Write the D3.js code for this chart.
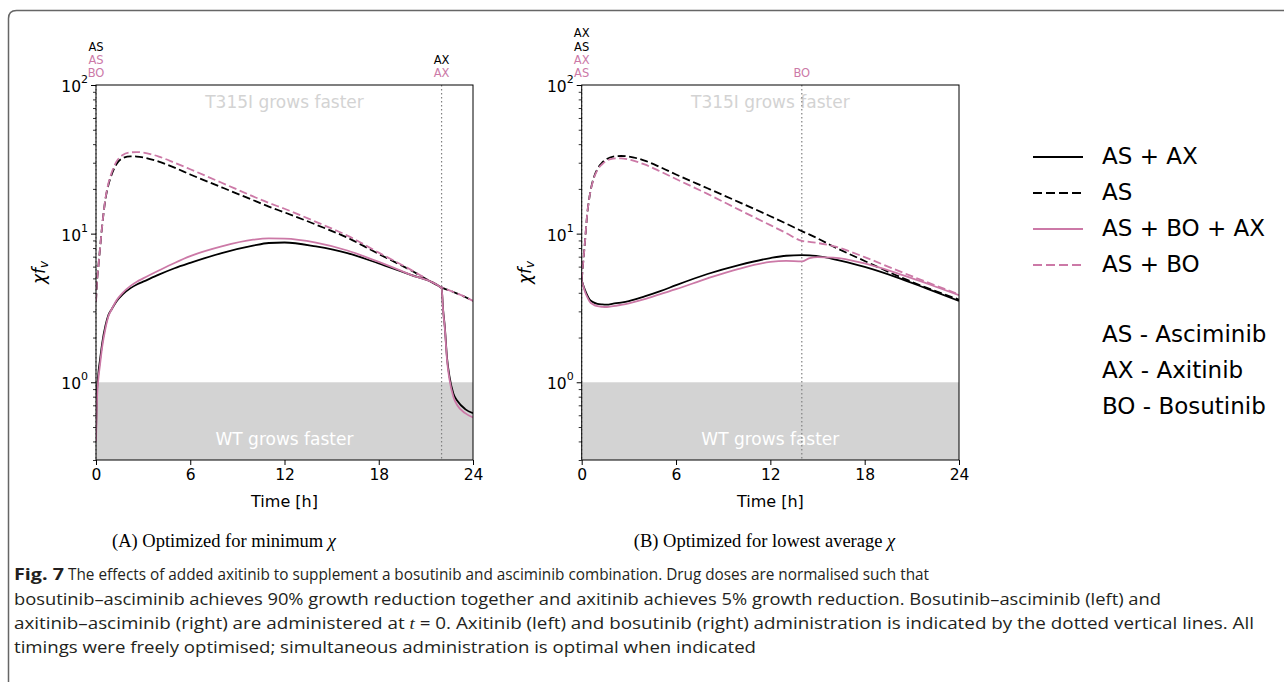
<!DOCTYPE html>
<html>
<head>
<meta charset="utf-8">
<script src="https://cdn.jsdelivr.net/npm/d3@7"></script>
<style>
  body { margin: 0; background: #fff; }
  svg { display: block; font-family: "DejaVu Sans", sans-serif; }
</style>
</head>
<body>
<svg id="fig" width="1284" height="682"></svg>
<script>
// ---- DATA ----
const black = '#000000'
const pink = '#cc79a7'

// panel A: optimized for minimum chi
const timeA = [0, 0.05, 0.15, 0.25, 0.4, 0.6, 0.8, 1, 1.3, 1.7, 2.2, 2.6, 3, 4, 5, 6, 8, 10, 11, 12, 14, 16, 18, 20, 22, 22.1, 22.2, 22.35, 22.5, 22.75, 23, 23.5, 24]
const asAX_A   = [0.45, 0.8, 1.15, 1.4, 1.85, 2.4, 2.85, 3.1, 3.5, 3.9, 4.3, 4.55, 4.75, 5.3, 5.85, 6.36, 7.4, 8.3, 8.65, 8.72, 8.2, 7.4, 6.3, 5.3, 4.3, 3.05, 2.4, 1.45, 1.1, 0.84, 0.75, 0.66, 0.62]
const as_A     = [3.5, 4.5, 6, 7.8, 11.5, 17, 21.5, 25, 29.3, 32.2, 33.1, 33.0, 32.6, 30.5, 27.8, 25.0, 20.5, 16.8, 15.2, 13.9, 11.5, 9.4, 7.3, 5.7, 4.35, 4.3, 4.25, 4.2, 4.15, 4.05, 3.95, 3.75, 3.53]
const asBOAX_A = [0.4, 0.7, 1.05, 1.3, 1.75, 2.3, 2.8, 3.1, 3.55, 4.0, 4.45, 4.75, 5.0, 5.65, 6.35, 7.05, 8.2, 9.1, 9.28, 9.25, 8.7, 7.7, 6.45, 5.3, 4.3, 3.0, 2.35, 1.4, 1.05, 0.8, 0.7, 0.62, 0.58]
const asBO_A   = [3.5, 4.5, 6, 7.8, 11.5, 17.2, 22, 25.8, 30.5, 33.8, 35.2, 35.4, 35.1, 33, 30, 27.1, 22, 17.8, 16.1, 14.7, 12.0, 9.7, 7.45, 5.75, 4.35, 4.3, 4.25, 4.2, 4.15, 4.05, 3.95, 3.75, 3.53]

// panel B: optimized for lowest average chi
const timeB = [0, 0.1, 0.2, 0.35, 0.5, 0.75, 1, 1.3, 1.6, 2, 2.5, 3, 4, 5, 6, 8, 10, 12, 13, 14, 14.5, 15, 16, 18, 20, 22, 24]
const asAX_B   = [4.86, 4.5, 4.2, 3.85, 3.6, 3.45, 3.37, 3.34, 3.33, 3.38, 3.44, 3.52, 3.78, 4.1, 4.5, 5.35, 6.14, 6.85, 7.1, 7.17, 7.15, 7.05, 6.75, 5.97, 5.1, 4.25, 3.53]
const as_B     = [4.86, 6.5, 8.6, 13.5, 17.8, 23.5, 27.2, 30, 31.8, 33, 33.3, 33, 31, 28, 25, 20.2, 16.3, 13.1, 11.7, 10.4, 9.85, 9.3, 8.2, 6.55, 5.25, 4.3, 3.6]
const asBOAX_B = [4.86, 4.45, 4.1, 3.75, 3.5, 3.33, 3.25, 3.22, 3.21, 3.25, 3.32, 3.4, 3.62, 3.92, 4.23, 5.0, 5.8, 6.45, 6.55, 6.5, 6.85, 6.95, 6.9, 6.3, 5.45, 4.6, 3.85]
const asBO_B   = [4.86, 6.5, 8.6, 13.5, 17.8, 23.2, 26.8, 29.3, 31, 32, 32.1, 31.5, 29.2, 26.2, 23.3, 18.5, 14.5, 11.4, 10.1, 8.94, 8.8, 8.65, 8.25, 6.95, 5.7, 4.7, 3.9]

// drug administration marks: time and labels stacked from the axis upward
const doseA = [
  {t: 0,  labels: [['BO', pink], ['AS', pink], ['AS', black]]},
  {t: 22, labels: [['AX', pink], ['AX', black]]}
]
const doseB = [
  {t: 0,  labels: [['AS', pink], ['AX', pink], ['AS', black], ['AX', black]]},
  {t: 14, labels: [['BO', pink]]}
]

const seriesNames = ['AS + AX', 'AS', 'AS + BO + AX', 'AS + BO']
const seriesColours = [black, black, pink, pink]
const seriesDashed = [false, true, false, true]
const abbreviations = ['AS - Asciminib', 'AX - Axitinib', 'BO - Bosutinib']
const xTicks = [0, 6, 12, 18, 24]
const yMajor = [1, 10, 100]
const yMinor = [0.3, 0.4, 0.5, 0.6, 0.7, 0.8, 0.9, 2, 3, 4, 5, 6, 7, 8, 9, 20, 30, 40, 50, 60, 70, 80, 90]

// ---- DRAWING ----
let svg = d3.select('#fig')

// article frame
svg.append('path')
  .attr('d', 'M8.5,700 L8.5,18.5 Q8.5,10.5 16.5,10.5 L1300,10.5')
  .attr('fill', 'none')
  .attr('stroke', '#666')
  .attr('stroke-width', 1.5)

function drawPanel(cfg) {
  let margins = {top: 85, bottom: 460, left: cfg.left, right: cfg.right}
  let x = d3.scaleLinear().domain([0, 24]).range([margins.left, margins.right])
  let y = d3.scaleLog().domain([0.3, 100]).range([margins.bottom, margins.top])
  let g = svg.append('g')

  let clipId = 'clip' + cfg.id
  g.append('clipPath').attr('id', clipId)
    .append('rect')
    .attr('x', margins.left).attr('y', margins.top)
    .attr('width', margins.right - margins.left)
    .attr('height', margins.bottom - margins.top)

  // WT region
  g.append('rect')
    .attr('x', x(0)).attr('y', y(1))
    .attr('width', x(24) - x(0)).attr('height', y(0.3) - y(1))
    .attr('fill', '#d3d3d3')

  g.append('text')
    .attr('x', x(12)).attr('y', y(100) + 18)
    .attr('text-anchor', 'middle').attr('dominant-baseline', 'middle')
    .attr('font-size', 17).attr('fill', '#d3d3d3')
    .text('T315I grows faster')
  g.append('text')
    .attr('x', x(12)).attr('y', 440)
    .attr('text-anchor', 'middle').attr('dominant-baseline', 'middle')
    .attr('font-size', 17).attr('fill', '#ffffff')
    .text('WT grows faster')

  // dotted administration lines
  cfg.doses.forEach(d => {
    g.append('line')
      .attr('x1', x(d.t)).attr('x2', x(d.t))
      .attr('y1', y(100)).attr('y2', y(0.3))
      .attr('stroke', '#808080').attr('stroke-width', 1.2)
      .attr('stroke-dasharray', '1.5,2.5')
    d.labels.forEach((lab, i) => {
      g.append('text')
        .attr('x', x(d.t)).attr('y', 73.5 - i * 13.2)
        .attr('text-anchor', 'middle').attr('dominant-baseline', 'middle')
        .attr('font-size', 11.5).attr('fill', lab[1])
        .text(lab[0])
    })
  })

  // curves
  let line = d3.line()
    .x(d => x(d.t))
    .y(d => y(d.v))
    .curve(d3.curveMonotoneX)

  let order = [1, 3, 0, 2]
  order.forEach(k => {
    let pts = cfg.time.map((t, i) => ({t: t, v: cfg.series[k][i]}))
    g.append('path')
      .datum(pts)
      .attr('clip-path', `url(#${clipId})`)
      .attr('d', line)
      .attr('fill', 'none')
      .attr('stroke', seriesColours[k])
      .attr('stroke-width', 1.8)
      .attr('stroke-dasharray', seriesDashed[k] ? '8,3.5' : null)
  })

  // X AXIS
  let xAxis = g.append('g')
    .attr('transform', `translate(0, ${margins.bottom})`)
    .call(d3.axisBottom(x).tickValues(xTicks).tickSize(5).tickPadding(4))
  xAxis.select('.domain').remove()
  xAxis.selectAll('text').attr('font-size', 15.5).attr('fill', '#000').attr('font-family', 'DejaVu Sans')
  xAxis.selectAll('line').attr('stroke', '#000')

  g.append('text')
    .attr('x', x(12)).attr('y', 502)
    .attr('text-anchor', 'middle').attr('dominant-baseline', 'middle')
    .attr('font-size', 16)
    .text('Time [h]')

  // Y AXIS
  let yAxis = g.append('g')
    .attr('transform', `translate(${margins.left}, 0)`)
    .call(d3.axisLeft(y).tickValues(yMajor).tickSize(5).tickFormat(''))
  yAxis.select('.domain').remove()
  yAxis.selectAll('line').attr('stroke', '#000')

  let yMinorAxis = g.append('g')
    .attr('transform', `translate(${margins.left}, 0)`)
    .call(d3.axisLeft(y).tickValues(yMinor).tickSize(3).tickFormat(''))
  yMinorAxis.select('.domain').remove()
  yMinorAxis.selectAll('line').attr('stroke', '#000').attr('stroke-width', 0.8)

  yMajor.forEach(v => {
    let lab = g.append('text')
      .attr('x', margins.left - 8).attr('y', y(v) + 2)
      .attr('text-anchor', 'end').attr('dominant-baseline', 'middle')
      .attr('font-size', 15.5)
    lab.append('tspan').text('10')
    lab.append('tspan').attr('font-size', 11).attr('dy', -7).text(Math.round(Math.log10(v)))
  })

  let yl = g.append('text')
    .attr('transform', `translate(${margins.left - 56}, ${(margins.top + margins.bottom) / 2}) rotate(-90)`)
    .attr('text-anchor', 'middle').attr('dominant-baseline', 'middle')
    .attr('font-size', 17).attr('font-style', 'italic')
  yl.append('tspan').text('χf')
  yl.append('tspan').attr('font-size', 12).attr('dy', 4).text('v')

  // spines
  g.append('rect')
    .attr('x', margins.left).attr('y', margins.top)
    .attr('width', margins.right - margins.left)
    .attr('height', margins.bottom - margins.top)
    .attr('fill', 'none').attr('stroke', '#000').attr('stroke-width', 1)

  // sub caption
  let sc = g.append('text')
    .attr('x', cfg.captionX).attr('y', 543)
    .attr('text-anchor', 'middle').attr('dominant-baseline', 'middle')
    .attr('font-family', '"Liberation Serif", "DejaVu Serif", serif')
    .attr('font-size', 18.5)
  sc.append('tspan').text(cfg.caption + ' ')
  sc.append('tspan').attr('font-style', 'italic').text('χ')
}

drawPanel({id: 'A', left: 96, right: 473, time: timeA,
  series: [asAX_A, as_A, asBOAX_A, asBO_A], doses: doseA,
  captionX: 224, caption: '(A) Optimized for minimum'})
drawPanel({id: 'B', left: 581.7, right: 959, time: timeB,
  series: [asAX_B, as_B, asBOAX_B, asBO_B], doses: doseB,
  captionX: 764.5, caption: '(B) Optimized for lowest average'})

// LEGEND
let legend = svg.append('g')
seriesNames.forEach((name, i) => {
  let yy = 157 + i * 36
  legend.append('line')
    .attr('x1', 1033).attr('x2', 1083).attr('y1', yy).attr('y2', yy)
    .attr('stroke', seriesColours[i]).attr('stroke-width', 2)
    .attr('stroke-dasharray', seriesDashed[i] ? '9,4' : null)
  legend.append('text')
    .attr('x', 1102).attr('y', yy)
    .attr('dominant-baseline', 'middle')
    .attr('font-size', 23)
    .text(name)
})
abbreviations.forEach((name, i) => {
  legend.append('text')
    .attr('x', 1102).attr('y', 335 + i * 36)
    .attr('dominant-baseline', 'middle')
    .attr('font-size', 23)
    .text(name)
})

// FIGURE CAPTION
const captionFont = '"Liberation Sans Narrow", "Open Sans", sans-serif'
let cap = svg.append('g').attr('font-family', captionFont).attr('font-size', 16).attr('fill', '#231f20')
cap.append('text').attr('x', 14).attr('y', 580).attr('font-weight', 'bold').attr('textLength', 50).attr('lengthAdjust', 'spacingAndGlyphs').text('Fig. 7')
cap.append('text').attr('x', 68).attr('y', 580).attr('textLength', 861).attr('lengthAdjust', 'spacingAndGlyphs')
  .text('The effects of added axitinib to supplement a bosutinib and asciminib combination. Drug doses are normalised such that')
cap.append('text').attr('x', 14).attr('y', 605).attr('textLength', 1147).attr('lengthAdjust', 'spacingAndGlyphs')
  .text('bosutinib–asciminib achieves 90% growth reduction together and axitinib achieves 5% growth reduction. Bosutinib–asciminib (left) and')
let l3 = cap.append('text').attr('x', 14).attr('y', 629).attr('textLength', 1240).attr('lengthAdjust', 'spacingAndGlyphs')
l3.append('tspan').text('axitinib–asciminib (right) are administered at ')
l3.append('tspan').attr('font-style', 'italic').attr('font-family', '"Liberation Serif", serif').text('t')
l3.append('tspan').text(' = 0. Axitinib (left) and bosutinib (right) administration is indicated by the dotted vertical lines. All')
cap.append('text').attr('x', 14).attr('y', 653).attr('textLength', 742).attr('lengthAdjust', 'spacingAndGlyphs')
  .text('timings were freely optimised; simultaneous administration is optimal when indicated')
</script>
</body>
</html>
